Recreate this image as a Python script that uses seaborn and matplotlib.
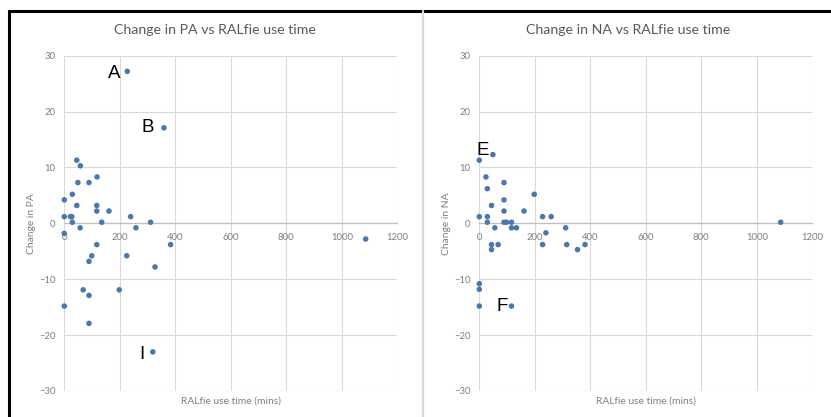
import matplotlib
matplotlib.use("Agg")
import matplotlib.pyplot as plt
import seaborn as sns
import pandas as pd
from matplotlib.lines import Line2D

# ---- data ----
pa_time = [227, 359, 45, 58, 49, 89, 118, 29, 0, 45, 117, 117, 161, 0, 22, 27, 29, 57,
           135, 239, 258, 311, 0, 117, 383, 99, 89, 225, 327, 68, 198, 89, 0, 89, 319, 1086]
pa_change = [27.2, 17.1, 11.3, 10.3, 7.3, 7.3, 8.3, 5.2, 4.2, 3.2, 3.2, 2.2, 2.2, 1.2, 1.2, 1.2,
             0.2, -0.8, 0.2, 1.2, -0.8, 0.2, -1.8, -3.8, -3.8, -5.8, -6.8, -5.8, -7.8, -11.9,
             -11.9, -12.9, -14.8, -17.9, -23.0, -2.8]

na_time = [0, 49, 24, 29, 89, 198, 89, 44, 89, 161, 0, 29, 29, 228, 259, 89, 98, 116, 56, 116,
           134, 311, 240, 44, 68, 228, 315, 381, 44, 354, 0, 0, 0, 116, 1086]
na_change = [11.3, 12.3, 8.3, 6.2, 7.3, 5.2, 4.2, 3.2, 2.2, 2.2, 1.2, 1.2, 0.2, 1.2, 1.2, 0.2,
             0.2, 0.2, -0.8, -0.8, -0.8, -0.8, -1.7, -3.8, -3.8, -3.8, -3.8, -3.8, -4.7, -4.7,
             -10.8, -11.8, -14.8, -14.8, 0.2]

x_ticks = [0, 200, 400, 600, 800, 1000, 1200]
y_ticks = [-30, -20, -10, 0, 10, 20, 30]

pa_labels = [("A", 227, 27.2, (-9.6, -1.2)), ("B", 359, 17.1, (-11.3, 0)),
             ("I", 319, -23.0, (-8.1, -2.2))]
na_labels = [("E", 49, 12.3, (-7.0, 3.1)), ("F", 116, -14.8, (-6.8, -0.4))]

titles = ["Change in PA vs RALfie use time", "Change in NA vs RALfie use time"]
ylabels = ["Change in PA", "Change in NA"]
xlabel = "RALfie use time (mins)"

# ---- figure ----
sns.set_theme(style="white")
plt.rcParams["font.family"] = ["Lato", "DejaVu Sans"]

W, H = 831, 417
fig = plt.figure(figsize=(W / 100, H / 100), dpi=100)

dot_color = "#4a78ad"
grid_color = "#d9d9d9"
text_gray = "#7f7f7f"

panels = [
    (64.3, pa_time, pa_change, pa_labels, titles[0], ylabels[0], 215),
    (479.3, na_time, na_change, na_labels, titles[1], ylabels[1], 628),
]

for left_px, xs, ys, labels, title, ylab, title_x in panels:
    ax = fig.add_axes([left_px / W, 1 - 391 / H, 333 / W, (391 - 55.7) / H])
    df = pd.DataFrame({"t": xs, "c": ys})
    sns.scatterplot(data=df, x="t", y="c", ax=ax, color=dot_color, s=16,
                    edgecolor="none", linewidth=0, zorder=3, clip_on=False)
    ax.set_xlim(0, 1200)
    ax.set_ylim(-30, 30)
    ax.set_xticks(x_ticks)
    ax.set_yticks(y_ticks)
    ax.grid(True, color=grid_color, linewidth=0.8)
    ax.set_axisbelow(True)
    for s in ["top", "right", "left"]:
        ax.spines[s].set_visible(False)
    ax.spines["bottom"].set_position(("data", 0))
    ax.spines["bottom"].set_color("#bfbfbf")
    ax.spines["bottom"].set_linewidth(0.9)
    ax.tick_params(axis="both", length=0, labelsize=6.8, labelcolor=text_gray)
    ax.tick_params(axis="x", pad=7)
    ax.tick_params(axis="y", pad=6.5)
    ax.set_xlabel(xlabel, fontsize=7.4, color=text_gray)
    ax.set_ylabel(ylab, fontsize=7.4, color=text_gray)
    ax.xaxis.set_label_coords(0.5, -0.016)
    ax.yaxis.set_label_coords(-0.085, 0.5)
    ax.patch.set_alpha(0)
    for letter, lx, ly, off in labels:
        ax.annotate(letter, (lx, ly), xytext=off, textcoords="offset points",
                    ha="center", va="center", fontsize=13.5, color="black",
                    family=["Liberation Sans", "DejaVu Sans"])
    fig.text(title_x / W, 1 - 30 / H, title, ha="center", va="center",
             fontsize=10.2, color="#595959")

# decorative frame lines
fig.add_artist(Line2D([9 / W, 1], [1 - 11 / H, 1 - 11 / H], color="black", lw=2.2,
                      transform=fig.transFigure))
fig.add_artist(Line2D([9 / W, 9 / W], [0, 1 - 11 / H], color="black", lw=2.2,
                      transform=fig.transFigure))
fig.add_artist(Line2D([423 / W, 423 / W], [0, 1 - 11 / H], color=grid_color, lw=1.6,
                      transform=fig.transFigure))

fig.savefig("out.png", dpi=100)
